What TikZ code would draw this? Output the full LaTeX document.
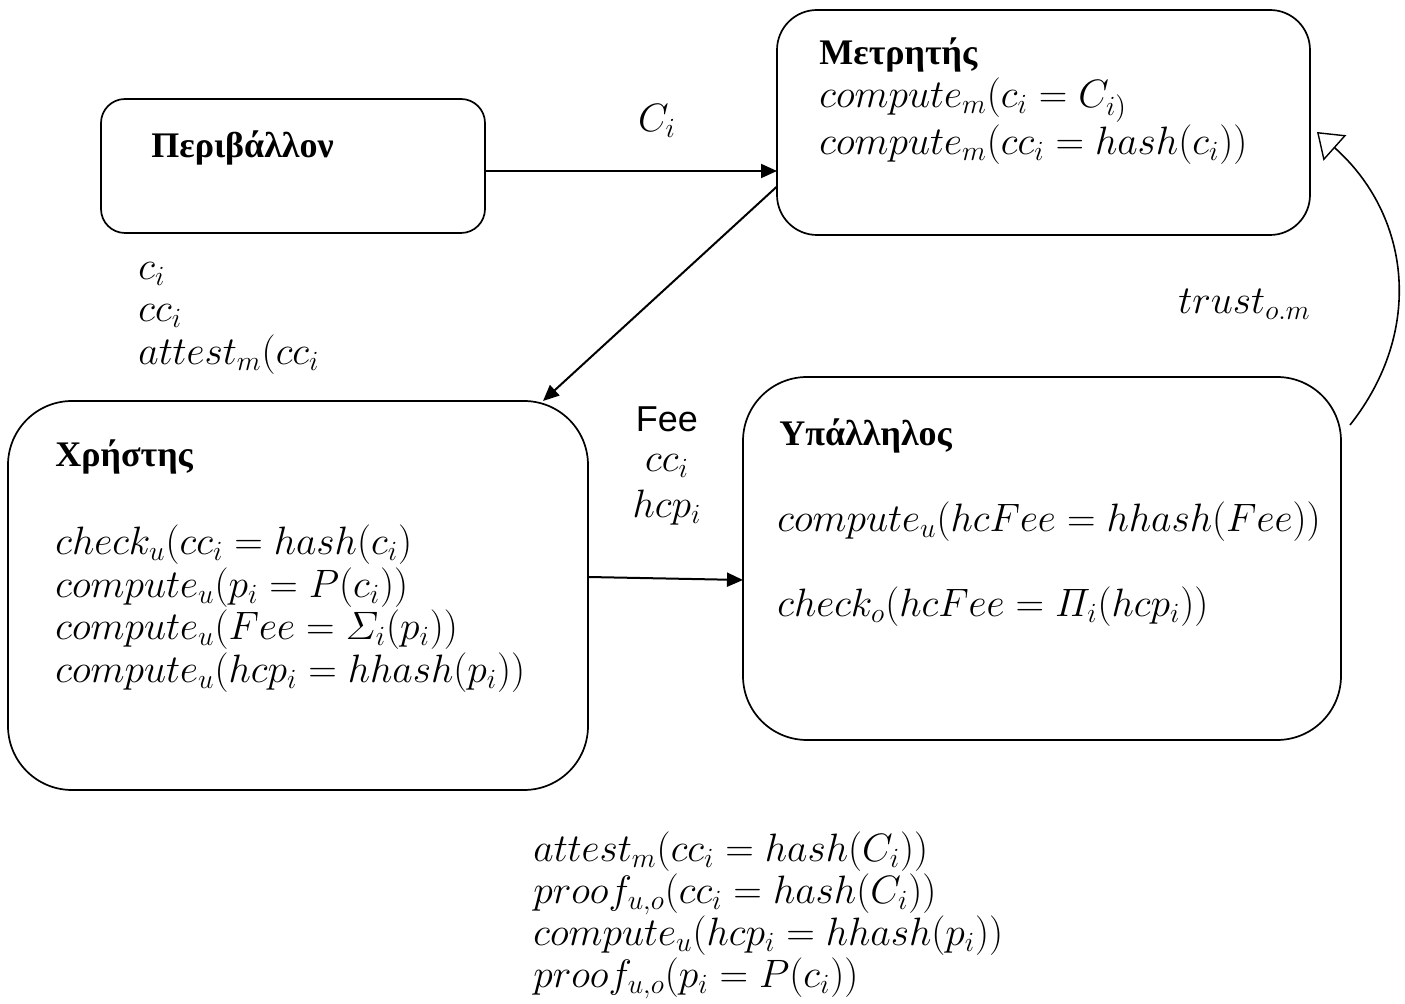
\RequirePackage{fix-cm}
\documentclass[tikz,border=0pt]{standalone}
\usepackage{amsmath}
\usepackage{fontspec}
\newfontfamily\greekbold[Script=Greek]{Liberation Serif}
\newfontfamily\labelsans{Liberation Sans}
\usetikzlibrary{arrows.meta}

\tikzset{
  box/.style={draw, line width=0.85pt, inner sep=0pt, outer sep=0pt, anchor=north west},
  title/.style={anchor=base west, inner sep=0pt, font=\greekbold\bfseries\fontsize{18}{21}\selectfont},
  formula/.style={anchor=base west, inner sep=0pt, font=\fontsize{19.8}{21}\selectfont},
  tag/.style={anchor=base, inner sep=0pt, font=\fontsize{19.8}{21}\selectfont},
  flow/.style={line width=1pt, -{Triangle[length=8pt,width=7pt]}},
  trustarrow/.style={line width=0.8pt, -{Triangle[open,length=12pt,width=17pt,line width=0.7pt]}},
}

\begin{document}
\begin{tikzpicture}[x=0.5pt,y=-0.5pt]
\useasboundingbox (0,0) rectangle (1405,1004);

% the four actors
\node[box, rounded corners=12pt, minimum width=192pt, minimum height=67pt] (env) at (101,99) {};
\node[box, rounded corners=20pt, minimum width=266.5pt, minimum height=112.5pt] (meter) at (777,10) {};
\node[box, rounded corners=32pt, minimum width=290pt, minimum height=194.5pt] (user) at (8,401) {};
\node[box, rounded corners=32pt, minimum width=299pt, minimum height=181.5pt] (clerk) at (743,377) {};

% environment
\node[title] (envT) at (151,158) {Περιβάλλον};

% meter
\node[title] (meterT) at (819,65) {Μετρητής};
\node[formula] (meterA) at (819,108) {$compute_{m}(c_{i} = C_{i)}$};
\node[formula] (meterB) at (819,155) {$compute_{m}(cc_{i} = hash(c_{i}))$};

% user
\node[title] (userT) at (55,467) {Χρήστης};
\node[formula] (userA) at (55,555) {$check_{u}(cc_{i} = hash(c_{i})$};
\node[formula] (userB) at (55,598) {$compute_{u}(p_{i} = P(c_{i}))$};
\node[formula] (userC) at (55,640) {$compute_{u}(Fee = \varSigma_{i}(p_{i}))$};
\node[formula] (userD) at (55,683) {$compute_{u}(hcp_{i} = hhash(p_{i}))$};

% clerk
\node[title] (clerkT) at (779,446) {Υπάλληλος};
\node[formula] (clerkA) at (777,532) {$compute_{u}(hcFee = hhash(Fee))$};
\node[formula] (clerkB) at (777,617) {$check_{o}(hcFee = \varPi_{i}(hcp_{i}))$};

% values handed to the user
\node[formula] (gotA) at (138,280) {$c_{i}$};
\node[formula] (gotB) at (138,322) {$cc_{i}$};
\node[formula] (gotC) at (138,365) {$attest_{m}(cc_{i}$};

% transfer labels
\node[tag] (reading) at (657,132) {$C_{i}$};
\node[tag, font=\labelsans\fontsize{18}{21}\selectfont] (fee) at (667,432) {Fee};
\node[tag] (feeB) at (667,472) {$cc_{i}$};
\node[tag] (feeC) at (667,518) {$hcp_{i}$};
\node[formula] (trust) at (1178,314) {$trust_{o.m}$};

% proofs
\node[formula] (proofA) at (533,862) {$attest_{m}(cc_{i} = hash(C_{i}))$};
\node[formula] (proofB) at (533,904) {$proof_{u,o}(cc_{i} = hash(C_{i}))$};
\node[formula] (proofC) at (533,946) {$compute_{u}(hcp_{i} = hhash(p_{i}))$};
\node[formula] (proofD) at (533,988) {$proof_{u,o}(p_{i} = P(c_{i}))$};

% connectors
\draw[flow] ([yshift=-2.5pt]env.east) coordinate (e1) -- (e1 -| meter.west);
\draw[flow] ([yshift=-32pt]meter.west) -- ([xshift=122.5pt]user.north);
\draw[flow] ([yshift=9.25pt]user.east) -- ([yshift=-10.75pt]clerk.west);
\draw[trustarrow] ([xshift=4.5pt,yshift=-24pt]clerk.north east)
  .. controls +(37.5pt,47.5pt) and +(46.5pt,-41.5pt) .. ([xshift=3.5pt,yshift=-4.75pt]meter.east);
\end{tikzpicture}
\end{document}
